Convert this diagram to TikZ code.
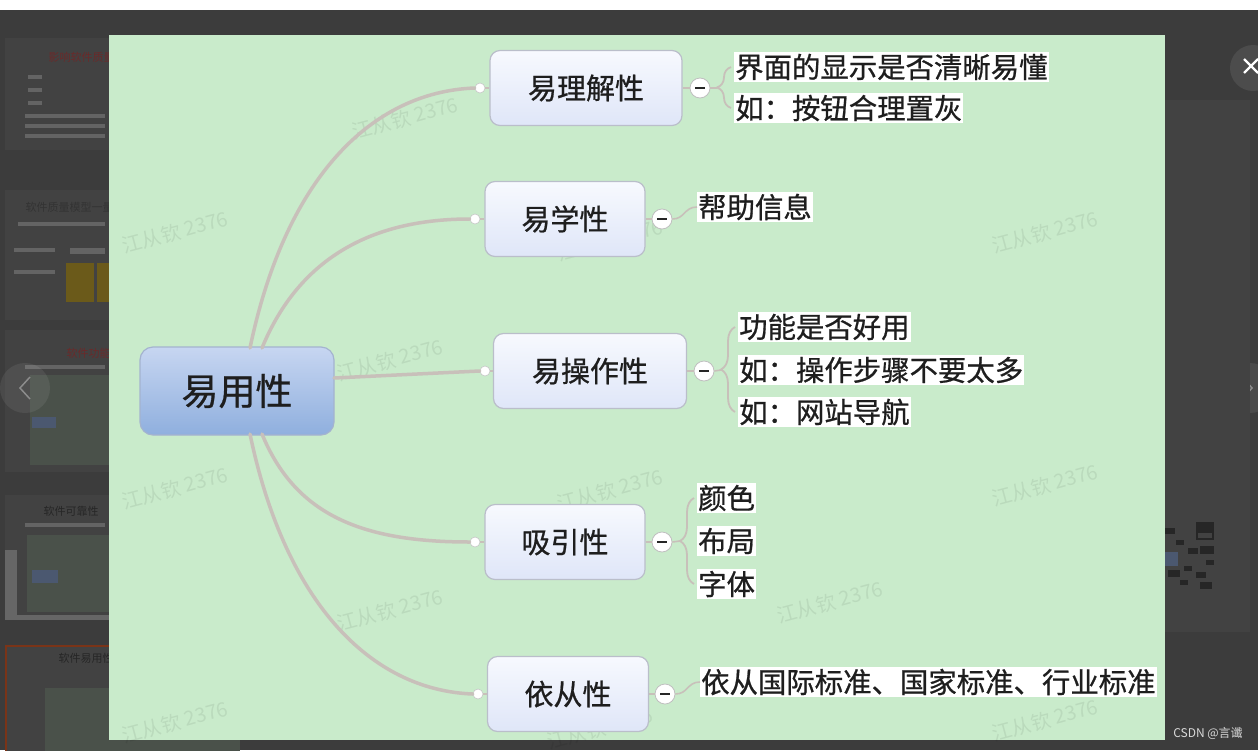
\documentclass[tikz,border=0pt]{standalone}
\usepackage{fontspec}
\setmainfont{Noto Sans CJK SC}
\newfontfamily\cjkbold{Noto Sans CJK SC}[FakeBold=0.7]
\usetikzlibrary{decorations.pathreplacing}
\definecolor{darkbg}{HTML}{3C3C3C}
\definecolor{thumbbg}{HTML}{424242}
\definecolor{panelgreen}{HTML}{C9EBCB}
\definecolor{conncol}{HTML}{C8C0BA}
\definecolor{topicborder}{HTML}{BABECA}
\definecolor{topictop}{HTML}{F7F9FE}
\definecolor{topicbot}{HTML}{DFE6F8}
\definecolor{roottop}{HTML}{C7D6F1}
\definecolor{rootbot}{HTML}{8FAFDE}
\definecolor{rootborder}{HTML}{A4B3CF}
\definecolor{txt}{HTML}{1E1E1E}
\definecolor{dimred}{HTML}{6A2A2A}
\definecolor{dimgreen}{HTML}{4A514A}
\definecolor{dimblue}{HTML}{4B5870}
\definecolor{dimorange}{HTML}{7A3418}
\definecolor{dimyellow}{HTML}{6B5A1A}
\tikzset{
  topic/.style={draw=topicborder, line width=1.2pt, rounded corners=10pt,
    top color=topictop, bottom color=topicbot, text=txt,
    font=\cjkbold\fontsize{29}{34}\selectfont, inner sep=0pt, minimum height=75pt},
  rootnode/.style={draw=rootborder, line width=1.2pt, rounded corners=13pt,
    top color=roottop, bottom color=rootbot, text=txt,
    font=\cjkbold\fontsize{37}{42}\selectfont, inner sep=0pt,
    minimum width=194pt, minimum height=88pt},
  leaf/.style={anchor=west, fill=white, text=txt, inner xsep=1pt, inner ysep=0pt,
    minimum height=30pt, font=\cjkbold\fontsize{28.4}{30}\selectfont},
  dot/.style={circle, fill=white, draw=black!22, line width=0.6pt,
    minimum size=10pt, inner sep=0pt},
  minus/.style={circle, fill=white, draw=black!25, line width=0.8pt,
    minimum size=20pt, inner sep=0pt,
    path picture={\draw[line width=2.6pt, black!85]
      ([xshift=-5pt]path picture bounding box.center) --
      ([xshift=5pt]path picture bounding box.center);}},
  conn/.style={draw=conncol, line width=3.5pt, line cap=round},
  link/.style={draw=conncol, line width=1.6pt},
  brk/.style={draw=conncol, line width=1.8pt, decorate,
    decoration={brace, amplitude=14pt}},
  wm/.style={font=\fontsize{20}{20}\selectfont, text=black, opacity=0.07, rotate=15},
  thumbtitle/.style={anchor=west, font=\fontsize{11}{11}\selectfont},
  bar/.style={fill=black!40, opacity=0.4}
}
\begin{document}
\begin{tikzpicture}[x=1pt, y=-1pt]
\useasboundingbox (0,0) rectangle (1258,750);
% screen background
\fill[darkbg] (0,0) rectangle (1258,750);
\fill[white] (0,0) rectangle (1258,10);

% left thumbnails (faded)
\begin{scope}
\clip (0,10) rectangle (109,750);
\fill[thumbbg] (5,38) rectangle (120,150);
\node[thumbtitle, text=dimred] (t1) at (45,57) {影响软件质量的};
\foreach \yy in {77,90,103} \fill[bar] (28,\yy-2) rectangle (42,\yy+2);
\foreach \yy in {116,126,136} \fill[bar] (25,\yy-2) rectangle (105,\yy+2);
\fill[thumbbg] (5,190) rectangle (120,320);
\node[thumbtitle, text=black!80] (t2) at (22,207) {软件质量模型一量点};
\fill[bar] (18,222) rectangle (105,226);
\fill[bar] (14,248) rectangle (55,252);
\fill[bar] (14,270) rectangle (55,274);
\fill[bar] (70,248) rectangle (105,254);
\fill[dimyellow] (66,263) rectangle (94,302);
\fill[dimyellow] (97,263) rectangle (115,302);
\fill[thumbbg] (5,330) rectangle (120,472);
\node[thumbtitle, text=dimred] (t3) at (63,353) {软件功能性};
\fill[bar] (25,365) rectangle (105,369);
\fill[dimgreen] (30,375) rectangle (120,465);
\fill[dimblue] (32,417) rectangle (56,428);
\fill[thumbbg] (5,495) rectangle (120,620);
\fill[black!60] (5,550) rectangle (17,620);
\fill[black!60] (5,615) rectangle (120,620);
\node[thumbtitle, text=black!85] (t4) at (40,511) {软件可靠性};
\fill[bar] (25,523) rectangle (105,527);
\fill[dimgreen] (27,535) rectangle (120,612);
\fill[dimblue] (32,570) rectangle (58,583);
\end{scope}
\fill[thumbbg] (5,645) rectangle (240,760);
\draw[dimorange, line width=2pt] (6,760) -- (6,646) -- (240,646);
\node[thumbtitle, text=black!85] (t5) at (55,658) {软件易用性};
\fill[dimgreen] (45,688) rectangle (240,760);

% left / right arrows
\node[circle, fill=black!5, opacity=0.08, minimum size=50pt] (larr) at (25,388) {};
\draw[black!45, line width=1.5pt] (30,377) -- (20,388) -- (30,399);
\node[circle, fill=black!5, opacity=0.08, minimum size=50pt] (rarr) at (1250,388) {};
\draw[black!45, line width=1.5pt] (1242,377) -- (1252,388) -- (1242,399);

% right side faded content
\fill[thumbbg] (1165,100) rectangle (1250,632);
\foreach \xx/\yy/\s in {1196/522/18,1165/528/10,1176/540/8,1188/548/10,1200/546/14,1168/570/12,1184/566/8,1196/572/10,1206/560/8,1180/580/8,1200/582/12}
  \fill[black!85] (\xx,\yy) rectangle (\xx+\s,\yy+\s*0.6);
\draw[black!85, line width=2.5pt] (1197,523) rectangle (1213,539);
\fill[dimblue] (1165,552) rectangle (1178,566);

% close button
\node[circle, fill=black!70, minimum size=46pt, inner sep=0pt] (close) at (1253,68) {};
\draw[white, line width=2.2pt] (1244,59) -- (1258,73) (1244,73) -- (1258,59);

% caption
\node[font=\fontsize{12}{12}\selectfont, text=black!15] (csdn) at (1208,733) {CSDN @言谶};

% panel
\fill[panelgreen] (109,35) rectangle (1165,740);

% watermarks
\foreach \xx/\yy in {405/118,175/232,610/240,1045/232,390/360,175/488,610/490,1045/485,390/610,830/602,175/722,600/728,1045/720}
  \node[wm] at (\xx,\yy) {江从钦 2376};

% root and topics
\node[rootnode] (root) at (237,391) {易用性};
\node[topic, minimum width=192pt] (c1) at (586,88) {易理解性};
\node[topic, minimum width=160pt] (c2) at (565,219) {易学性};
\node[topic, minimum width=193pt] (c3) at (590,371) {易操作性};
\node[topic, minimum width=160pt] (c4) at (565,542) {吸引性};
\node[topic, minimum width=161pt] (c5) at (568,694) {依从性};

% attach dots
\node[dot] (d1) at (480,88) {};
\node[dot] (d2) at (475,219) {};
\node[dot] (d3) at (485,371) {};
\node[dot] (d4) at (475,542) {};
\node[dot] (d5) at (478,694) {};

% root connection points
\coordinate (r1) at (250,348);
\coordinate (r2) at (262,348);
\coordinate (r3) at (334,378);
\coordinate (r4) at (262,434);
\coordinate (r5) at (250,434);

\draw[conn] (r1) .. controls (285,180) and (370,92) .. (d1.west);
\draw[conn] (r2) .. controls (295,268) and (360,219) .. (d2.west);
\draw[conn] (r3) -- (d3.west);
\draw[conn] (r4) .. controls (295,514) and (360,542) .. (d4.west);
\draw[conn] (r5) .. controls (285,602) and (370,690) .. (d5.west);
\foreach \i in {1,...,5} \draw[link] (d\i.east) -- (c\i.west);

% minus buttons
\node[minus] (m1) at (700,88) {};
\node[minus] (m2) at (662,219) {};
\node[minus] (m3) at (704,371) {};
\node[minus] (m4) at (662,542) {};
\node[minus] (m5) at (665,694) {};
\foreach \i in {1,...,5} \draw[link] (c\i.east) -- (m\i.west);

% leaves
\node[leaf] (l11) at (734,67) {界面的显示是否清晰易懂};
\node[leaf] (l12) at (734,108) {如：按钮合理置灰};
\node[leaf] (l21) at (697,207) {帮助信息};
\node[leaf] (l31) at (738,327) {功能是否好用};
\node[leaf] (l32) at (738,370) {如：操作步骤不要太多};
\node[leaf] (l33) at (738,412) {如：网站导航};
\node[leaf] (l41) at (697,498) {颜色};
\node[leaf] (l42) at (697,541) {布局};
\node[leaf] (l43) at (697,584) {字体};
\node[leaf] (l51) at (700,682) {依从国际标准、国家标准、行业标准};

% brackets
\coordinate (b1a) at (731,108); \coordinate (b1b) at (731,67);
\draw[brk] (b1a) -- (b1b);
\coordinate (tip1) at (717,88);
\draw[link] (m1.east) -- (tip1);

\coordinate (b3a) at (735,412); \coordinate (b3b) at (735,327);
\draw[brk] (b3a) -- (b3b);
\coordinate (tip3) at (721,370);
\draw[link] (m3.east) -- (tip3);

\coordinate (b4a) at (694,584); \coordinate (b4b) at (694,498);
\draw[brk] (b4a) -- (b4b);
\coordinate (tip4) at (680,541);
\draw[link] (m4.east) -- (tip4);

\draw[link] (m2.east) .. controls (685,219) and (684,207) .. (l21.west);
\draw[link] (m5.east) .. controls (688,694) and (687,682) .. (l51.west);
\end{tikzpicture}
\end{document}
